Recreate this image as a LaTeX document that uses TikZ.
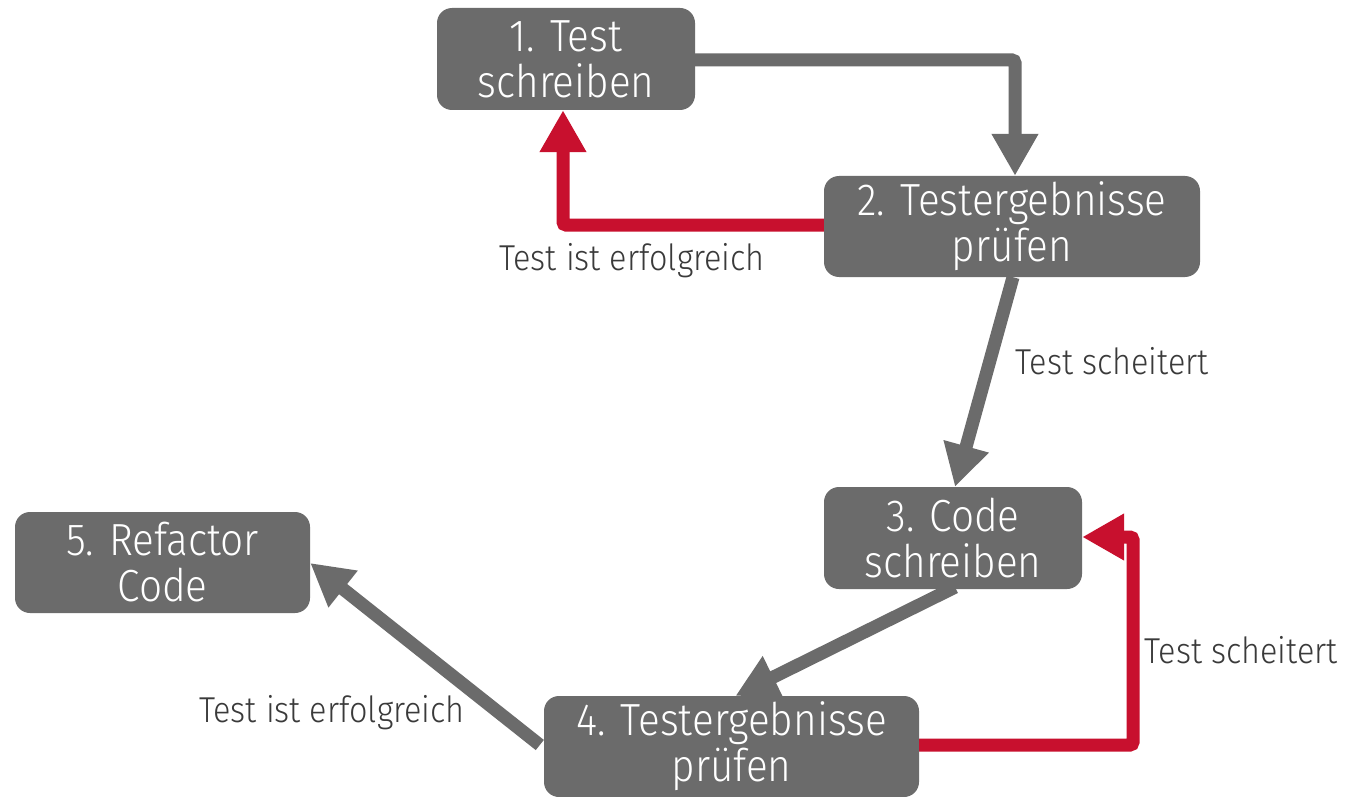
\documentclass[tikz,border=0pt]{standalone}
\usepackage{fontspec}
\setmainfont{Fira Sans Light}
\newfontfamily\condfont{Fira Sans Light}[FakeStretch=0.9]
\usetikzlibrary{arrows.meta}
\definecolor{boxgray}{HTML}{6B6B6B}
\definecolor{arrred}{HTML}{C8102E}
\definecolor{labgray}{HTML}{3A3A3A}
\begin{document}
\begin{tikzpicture}[x=1pt,y=-1pt,
  stepbox/.style={fill=boxgray, rounded corners=15pt, text=white, align=center,
    inner sep=0pt, font=\condfont\fontsize{45}{46}\selectfont},
  flow/.style={draw=boxgray, line width=13pt, rounded corners=3pt,
    -{Triangle[length=42pt,width=44pt]}},
  back/.style={draw=arrred, line width=13pt, rounded corners=3pt,
    -{Triangle[length=42pt,width=44pt]}},
  lab/.style={text=labgray, font=\condfont\fontsize{36}{40}\selectfont, inner sep=0pt}]
\useasboundingbox (0,0) rectangle (1353,797);
\fill[white] (0,0) rectangle (1353,797);
% boxes
\node[stepbox, minimum width=258pt, minimum height=102pt] (b1) at (566,59) {1. Test\\schreiben};
\node[stepbox, minimum width=376pt, minimum height=101pt] (b2) at (1012,226.5) {2. Testergebnisse\\prüfen};
\node[stepbox, minimum width=258pt, minimum height=102pt] (b3) at (953,538) {3. Code\\schreiben};
\node[stepbox, minimum width=375pt, minimum height=101pt] (b4) at (731.5,746.5) {4. Testergebnisse\\prüfen};
\node[stepbox, minimum width=295pt, minimum height=101pt] (b5) at (162.5,562.5) {5. Refactor\\Code};
% helper coordinates
\coordinate (c12) at (1015,60);
\coordinate (c21) at (563,225);
\coordinate (c43a) at (1133,745);
\coordinate (c43b) at (1133,537);
% connectors
\draw[flow] (b1.east |- 0,60) -- (c12) -- (c12 |- b2.north);
\draw[back] (b2.west |- 0,225) -- (c21) -- (c21 |- b1.south);
\draw[flow] ([xshift=1pt]b2.south) -- ([xshift=-57pt]b2.south |- b3.north);
\draw[flow] ([xshift=2pt,yshift=2pt]b3.south) -- ([xshift=4pt]b4.north);
\draw[back] (b4.east |- 0,745) -- (c43a) -- (c43b) -- (b3.east |- c43b);
\draw[flow] ([xshift=-4pt]b4.west |- 0,745) -- (b5.east |- 0,563);
% labels
\node[lab] (l1) at (632,261) {Test ist erfolgreich};
\node[lab] (l2) at (1112,361) {Test scheitert};
\node[lab] (l3) at (1241,650) {Test scheitert};
\node[lab] (l4) at (332,713) {Test ist erfolgreich};
\end{tikzpicture}
\end{document}
